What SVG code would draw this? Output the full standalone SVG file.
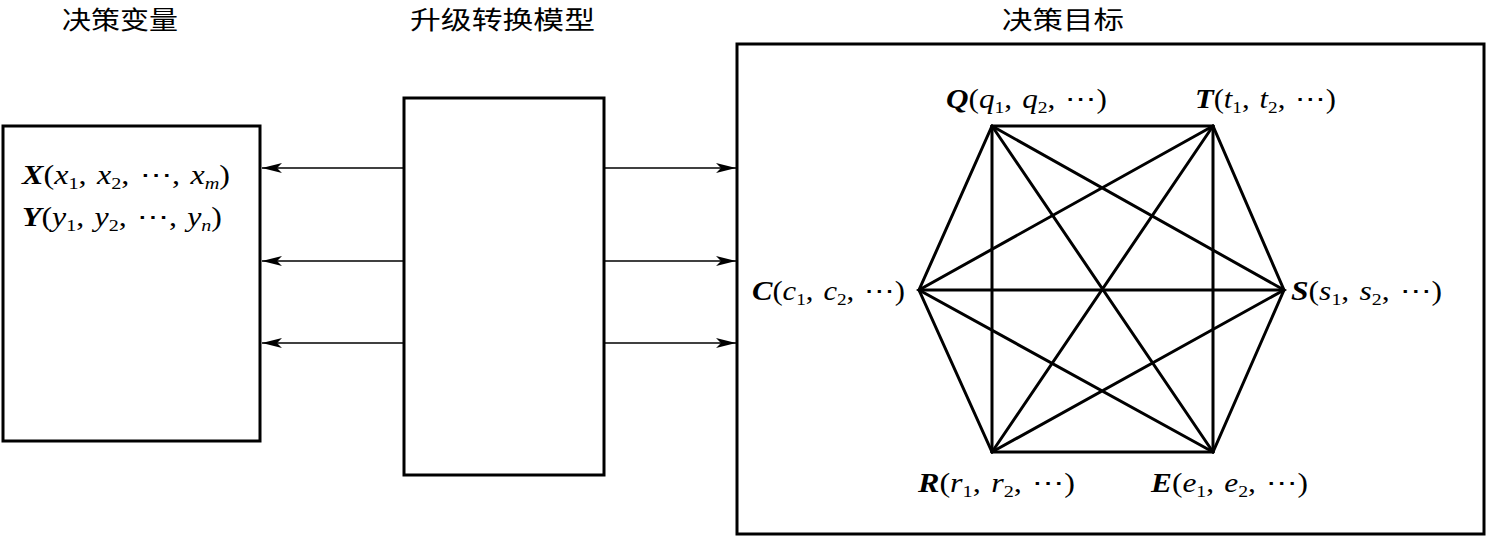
<svg xmlns="http://www.w3.org/2000/svg" width="1487" height="537" viewBox="0 0 1487 537">
<defs>
<style>
.box{fill:#fff;stroke:#000;stroke-width:3}
.ln{stroke:#000;stroke-width:1.6;fill:none}
.hx{stroke:#000;stroke-width:3;fill:none;stroke-linecap:round}
.t{font-family:"Noto Sans CJK SC","Noto Sans CJK JP",serif;font-size:25px;fill:#000}
.m{font-family:"Liberation Serif","Times New Roman",serif;font-size:27px;fill:#000;font-style:italic;word-spacing:2px}
.b{font-weight:bold}
.s{font-size:17px;font-style:normal}
.u{font-style:normal}
</style>
<marker id="ah" viewBox="0 0 20 10" refX="20" refY="5" markerWidth="20" markerHeight="10" markerUnits="userSpaceOnUse" orient="auto">
<path d="M0,0 L20,5 L0,10 L5,5 Z" fill="#000"/>
</marker>
</defs>
<g id="titles">
<text class="t" x="62" y="29" textLength="116" lengthAdjust="spacingAndGlyphs">决策变量</text>
<text class="t" x="410" y="29" textLength="185" lengthAdjust="spacingAndGlyphs">升级转换模型</text>
<text class="t" x="1002" y="29" textLength="122" lengthAdjust="spacingAndGlyphs">决策目标</text>
</g>
<g id="vars">
<rect class="box" x="3" y="126" width="257" height="315"/>
<text class="m" x="22" y="184" textLength="208" lengthAdjust="spacingAndGlyphs"><tspan class="b">X</tspan><tspan class="u">(</tspan>x<tspan class="s" dy="5">1</tspan><tspan class="u" dy="-5">, </tspan>x<tspan class="s" dy="5">2</tspan><tspan class="u" dy="-5">, ⋯, </tspan>x<tspan dy="5" font-size="17">m</tspan><tspan class="u" dy="-5">)</tspan></text>
<text class="m" x="22" y="226" textLength="200" lengthAdjust="spacingAndGlyphs"><tspan class="b">Y</tspan><tspan class="u">(</tspan>y<tspan class="s" dy="5">1</tspan><tspan class="u" dy="-5">, </tspan>y<tspan class="s" dy="5">2</tspan><tspan class="u" dy="-5">, ⋯, </tspan>y<tspan dy="5" font-size="17">n</tspan><tspan class="u" dy="-5">)</tspan></text>
</g>
<g id="model">
<rect class="box" x="404" y="98" width="200" height="377"/>
</g>
<g id="goals">
<rect class="box" x="737" y="44" width="747" height="490"/>
<text class="m" x="946" y="108" textLength="161" lengthAdjust="spacingAndGlyphs"><tspan class="b">Q</tspan><tspan class="u">(</tspan>q<tspan class="s" dy="5">1</tspan><tspan class="u" dy="-5">, </tspan>q<tspan class="s" dy="5">2</tspan><tspan class="u" dy="-5">, ⋯)</tspan></text>
<text class="m" x="1195" y="108" textLength="141" lengthAdjust="spacingAndGlyphs"><tspan class="b">T</tspan><tspan class="u">(</tspan>t<tspan class="s" dy="5">1</tspan><tspan class="u" dy="-5">, </tspan>t<tspan class="s" dy="5">2</tspan><tspan class="u" dy="-5">, ⋯)</tspan></text>
<text class="m" x="752" y="300" textLength="153" lengthAdjust="spacingAndGlyphs"><tspan class="b">C</tspan><tspan class="u">(</tspan>c<tspan class="s" dy="5">1</tspan><tspan class="u" dy="-5">, </tspan>c<tspan class="s" dy="5">2</tspan><tspan class="u" dy="-5">, ⋯)</tspan></text>
<text class="m" x="1291" y="300" textLength="151" lengthAdjust="spacingAndGlyphs"><tspan class="b">S</tspan><tspan class="u">(</tspan>s<tspan class="s" dy="5">1</tspan><tspan class="u" dy="-5">, </tspan>s<tspan class="s" dy="5">2</tspan><tspan class="u" dy="-5">, ⋯)</tspan></text>
<text class="m" x="918" y="492" textLength="157" lengthAdjust="spacingAndGlyphs"><tspan class="b">R</tspan><tspan class="u">(</tspan>r<tspan class="s" dy="5">1</tspan><tspan class="u" dy="-5">, </tspan>r<tspan class="s" dy="5">2</tspan><tspan class="u" dy="-5">, ⋯)</tspan></text>
<text class="m" x="1151" y="492" textLength="157" lengthAdjust="spacingAndGlyphs"><tspan class="b">E</tspan><tspan class="u">(</tspan>e<tspan class="s" dy="5">1</tspan><tspan class="u" dy="-5">, </tspan>e<tspan class="s" dy="5">2</tspan><tspan class="u" dy="-5">, ⋯)</tspan></text>
</g>
<g id="connectors">
<line class="ln" x1="404" y1="168" x2="262" y2="168" marker-end="url(#ah)"/>
<line class="ln" x1="404" y1="261" x2="262" y2="261" marker-end="url(#ah)"/>
<line class="ln" x1="404" y1="343" x2="262" y2="343" marker-end="url(#ah)"/>
<line class="ln" x1="604" y1="168" x2="736" y2="168" marker-end="url(#ah)"/>
<line class="ln" x1="604" y1="261" x2="736" y2="261" marker-end="url(#ah)"/>
<line class="ln" x1="604" y1="343" x2="736" y2="343" marker-end="url(#ah)"/>
<g class="hx">
<path d="M992,126 L1213,126 L1284,290 L1213,452 L992,452 L919,290 Z"/>
<path d="M992,126 L992,452 M1213,126 L1213,452 M919,290 L1284,290"/>
<path d="M992,126 L1213,452 M1213,126 L992,452"/>
<path d="M992,126 L1284,290 L992,452 M1213,126 L919,290 L1213,452"/>
</g>
</g>
</svg>
